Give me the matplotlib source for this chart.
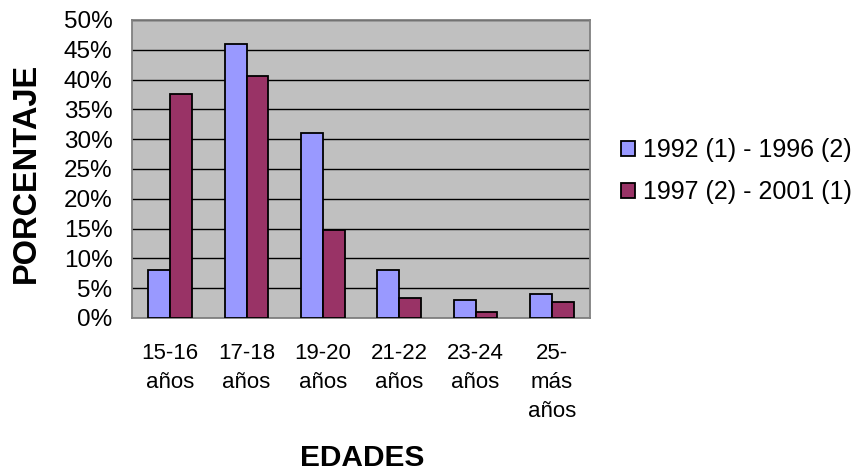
import matplotlib
matplotlib.use("Agg")
import matplotlib.pyplot as plt
import numpy as np
from matplotlib.patches import Patch

categories = ["15-16\naños", "17-18\naños", "19-20\naños", "21-22\naños", "23-24\naños", "25-\nmás\naños"]
series_names = ["1992 (1) - 1996 (2)", "1997 (2) - 2001 (1)"]
s1 = [8, 46, 31, 8, 3, 4]
s2 = [37.6, 40.6, 14.7, 3.3, 1.0, 2.7]
yticks = [0, 5, 10, 15, 20, 25, 30, 35, 40, 45, 50]

plt.rcParams['font.family'] = ['Liberation Sans', 'DejaVu Sans']

W, H = 859, 473
fig = plt.figure(figsize=(W/100, H/100), dpi=100)
ax = fig.add_axes([132/W, 1-318/H, 458/W, 298/H])
ax.set_facecolor('#C0C0C0')

x = np.arange(len(categories))
w = 0.288
c1, c2 = '#9999FF', '#993366'
ax.bar(x - w/2, s1, w, color=c1, edgecolor='black', linewidth=1.3, zorder=3)
ax.bar(x + w/2, s2, w, color=c2, edgecolor='black', linewidth=1.3, zorder=3)

ax.set_ylim(0, 50)
ax.set_xlim(-0.5, len(categories) - 0.5)
ax.set_yticks(yticks)
ax.set_yticklabels([f"{v}%" for v in yticks], fontsize=17.5)
ax.yaxis.grid(True, color='black', linewidth=1.0, zorder=1)
ax.set_axisbelow(True)
ax.set_xticks(x)
ax.set_xticklabels(categories, fontsize=16, linespacing=1.5, va='top')
ax.tick_params(axis='x', length=0, pad=18)
ax.tick_params(axis='y', length=0, pad=14)
for sp in ax.spines.values():
    sp.set_color('#808080')
    sp.set_linewidth(1.3)

fig.text(26/W, 1-173/H, "PORCENTAJE", fontsize=23.5, fontweight='bold',
         rotation=90, ha='center', va='center')
fig.text(362/W, 1-458/H, "EDADES", fontsize=21.5, fontweight='bold', ha='center', va='center')

handles = [Patch(facecolor=c1, edgecolor='black', linewidth=1.3),
           Patch(facecolor=c2, edgecolor='black', linewidth=1.3)]
fig.legend(handles, series_names, loc='center left', bbox_to_anchor=(621/W, 1-171/H),
           frameon=False, fontsize=18, handlelength=0.56, handleheight=0.56,
           handletextpad=0.33, labelspacing=0.72, borderaxespad=0, borderpad=0)

fig.savefig("out.png", dpi=100)
